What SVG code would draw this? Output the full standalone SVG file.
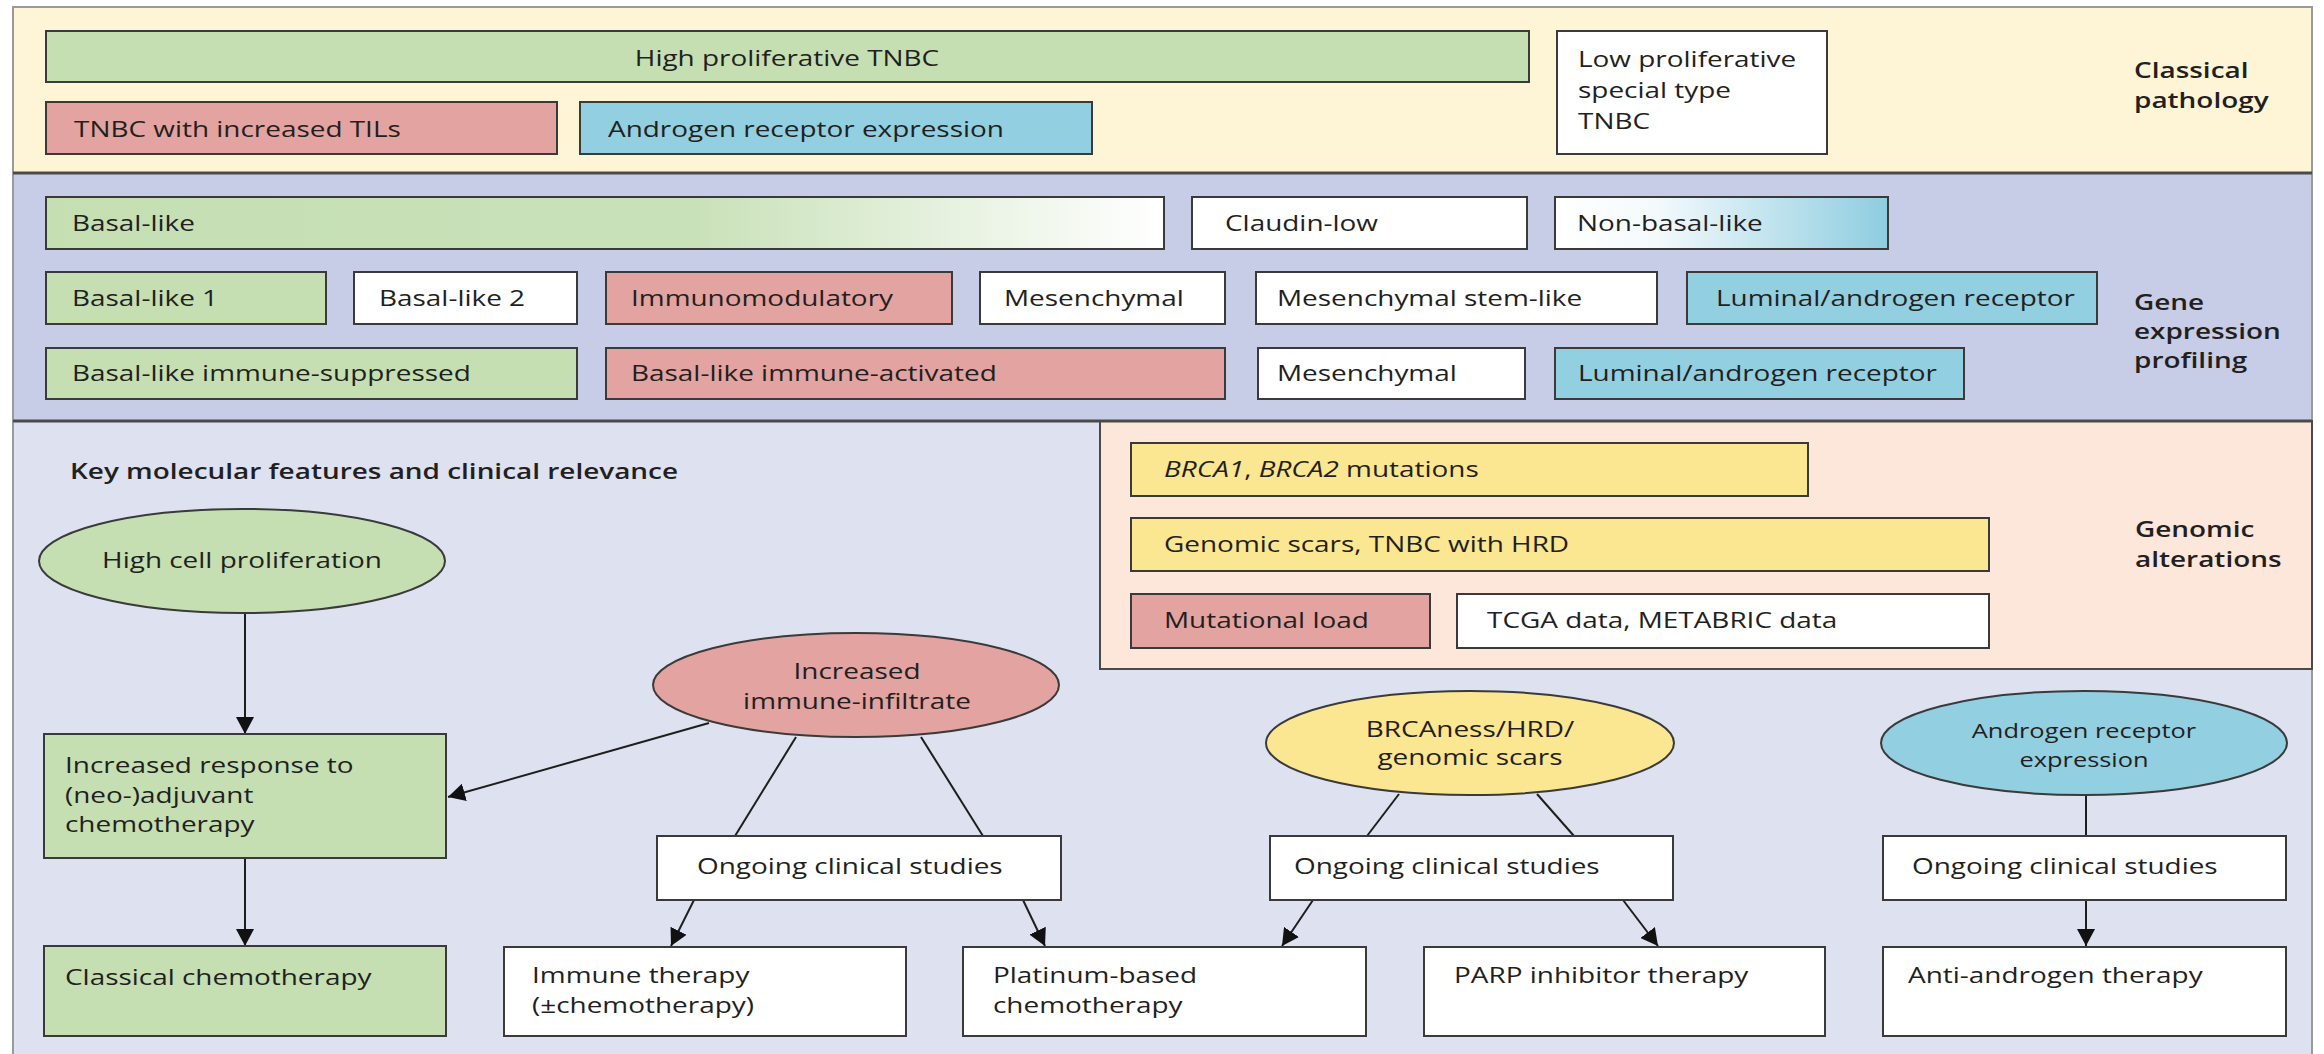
<svg xmlns="http://www.w3.org/2000/svg" width="2324" height="1054" viewBox="0 0 2324 1054">
<style>
.t{font-family:"Open Sans","Liberation Sans",sans-serif;font-size:22px;fill:#231f20}
.b{font-weight:600}
.c{text-anchor:middle}
.s{font-size:20px}
.box{stroke:#3a3a3a;stroke-width:2}
.g{fill:#c5dfb3}.r{fill:#e3a3a1}.cy{fill:#92cfe0}.y{fill:#fbe691}.w{fill:#ffffff}
.ln{stroke:#1e1e1e;stroke-width:2;fill:none}
.sep{stroke:#4a4a4a;stroke-width:3}
</style>
<defs>
<linearGradient id="basal" x1="0" y1="0" x2="1" y2="0">
<stop offset="0" stop-color="#c5dfb3"/><stop offset="0.58" stop-color="#c9e1b9"/><stop offset="1" stop-color="#ffffff"/>
</linearGradient>
<linearGradient id="nonbasal" x1="0" y1="0" x2="1" y2="0">
<stop offset="0" stop-color="#ffffff"/><stop offset="0.3" stop-color="#f4fafc"/><stop offset="1" stop-color="#8ecde0"/>
</linearGradient>
<marker id="ah" markerWidth="19" markerHeight="18" refX="17" refY="9" orient="auto" markerUnits="userSpaceOnUse">
<path d="M0,0 L17,9 L0,18 Z" fill="#111"/>
</marker>
</defs>
<rect x="0" y="0" width="2324" height="1054" fill="#ffffff"/>
<g id="panels">
<rect x="13" y="7" width="2299" height="166" fill="#fef4d6" stroke="#9a9a9a" stroke-width="2"/>
<rect x="13" y="173" width="2299" height="248" fill="#c7cde6" stroke="#9a9a9a" stroke-width="2"/>
<rect x="13" y="421" width="2299" height="640" fill="#dde1f0" stroke="#9a9a9a" stroke-width="2"/>
<rect x="1100" y="421" width="1212" height="248" fill="#fde6da" stroke="#4a4a4a" stroke-width="2"/>
<line class="sep" x1="13" y1="173" x2="2312" y2="173"/>
<line class="sep" x1="13" y1="421" x2="2312" y2="421"/>
</g>
<g id="high-prolif-tnbc"><rect class="box g" x="46" y="31" width="1483" height="51"/><text class="t c" transform="translate(787,66) scale(1.27,1)">High proliferative TNBC</text></g>
<g id="tnbc-tils"><rect class="box r" x="46" y="102" width="511" height="52"/><text class="t" transform="translate(74,137) scale(1.27,1)">TNBC with increased TILs</text></g>
<g id="ar-expression-top"><rect class="box cy" x="580" y="102" width="512" height="52"/><text class="t" transform="translate(608,137) scale(1.27,1)">Androgen receptor expression</text></g>
<g id="low-prolif"><rect class="box w" x="1557" y="31" width="270" height="123"/><text class="t" transform="translate(1578,67) scale(1.27,1)">Low proliferative<tspan x="0" dy="31">special type</tspan><tspan x="0" dy="31">TNBC</tspan></text></g>
<g id="label-classical"><text class="t b" transform="translate(2134,78) scale(1.27,1)">Classical<tspan x="0" dy="30">pathology</tspan></text></g>
<g id="basal-like"><rect class="box" fill="url(#basal)" x="46" y="197" width="1118" height="52"/><text class="t" transform="translate(72,231) scale(1.27,1)">Basal-like</text></g>
<g id="claudin-low"><rect class="box w" x="1192" y="197" width="335" height="52"/><text class="t" transform="translate(1225,231) scale(1.27,1)">Claudin-low</text></g>
<g id="non-basal-like"><rect class="box" fill="url(#nonbasal)" x="1555" y="197" width="333" height="52"/><text class="t" transform="translate(1577,231) scale(1.27,1)">Non-basal-like</text></g>
<g id="basal-like-1"><rect class="box g" x="46" y="272" width="280" height="52"/><text class="t" transform="translate(72,306) scale(1.27,1)">Basal-like 1</text></g>
<g id="basal-like-2"><rect class="box w" x="354" y="272" width="223" height="52"/><text class="t" transform="translate(379,306) scale(1.27,1)">Basal-like 2</text></g>
<g id="immunomodulatory"><rect class="box r" x="606" y="272" width="346" height="52"/><text class="t" transform="translate(631,306) scale(1.27,1)">Immunomodulatory</text></g>
<g id="mesenchymal-1"><rect class="box w" x="980" y="272" width="245" height="52"/><text class="t" transform="translate(1004,306) scale(1.27,1)">Mesenchymal</text></g>
<g id="mesenchymal-stem"><rect class="box w" x="1256" y="272" width="401" height="52"/><text class="t" transform="translate(1277,306) scale(1.27,1)">Mesenchymal stem-like</text></g>
<g id="luminal-ar-1"><rect class="box cy" x="1687" y="272" width="410" height="52"/><text class="t" transform="translate(1716,306) scale(1.27,1)">Luminal/androgen receptor</text></g>
<g id="basal-immune-suppressed"><rect class="box g" x="46" y="348" width="531" height="51"/><text class="t" transform="translate(72,381) scale(1.27,1)">Basal-like immune-suppressed</text></g>
<g id="basal-immune-activated"><rect class="box r" x="606" y="348" width="619" height="51"/><text class="t" transform="translate(631,381) scale(1.27,1)">Basal-like immune-activated</text></g>
<g id="mesenchymal-2"><rect class="box w" x="1258" y="348" width="267" height="51"/><text class="t" transform="translate(1277,381) scale(1.27,1)">Mesenchymal</text></g>
<g id="luminal-ar-2"><rect class="box cy" x="1555" y="348" width="409" height="51"/><text class="t" transform="translate(1578,381) scale(1.27,1)">Luminal/androgen receptor</text></g>
<g id="label-gene"><text class="t b" transform="translate(2134,310) scale(1.27,1)">Gene<tspan x="0" dy="29">expression</tspan><tspan x="0" dy="29">profiling</tspan></text></g>
<g id="brca-mutations"><rect class="box y" x="1131" y="443" width="677" height="53"/><text class="t" transform="translate(1164,477) scale(1.27,1)"><tspan font-style="italic">BRCA1</tspan>, <tspan font-style="italic">BRCA2</tspan> mutations</text></g>
<g id="genomic-scars"><rect class="box y" x="1131" y="518" width="858" height="53"/><text class="t" transform="translate(1164,552) scale(1.27,1)">Genomic scars, TNBC with HRD</text></g>
<g id="mutational-load"><rect class="box r" x="1131" y="594" width="299" height="54"/><text class="t" transform="translate(1164,628) scale(1.27,1)">Mutational load</text></g>
<g id="tcga"><rect class="box w" x="1457" y="594" width="532" height="54"/><text class="t" transform="translate(1487,628) scale(1.27,1)">TCGA data, METABRIC data</text></g>
<g id="label-genomic"><text class="t b" transform="translate(2135,537) scale(1.27,1)">Genomic<tspan x="0" dy="30">alterations</tspan></text></g>
<g id="label-key"><text class="t b" transform="translate(70,479) scale(1.27,1)">Key molecular features and clinical relevance</text></g>
<g id="connectors">
<line class="ln" x1="245" y1="613" x2="245" y2="734" marker-end="url(#ah)"/>
<line class="ln" x1="245" y1="858" x2="245" y2="946" marker-end="url(#ah)"/>
<line class="ln" x1="709" y1="723" x2="448" y2="797" marker-end="url(#ah)"/>
<line class="ln" x1="796" y1="737" x2="735" y2="836"/>
<line class="ln" x1="921" y1="737" x2="983" y2="836"/>
<line class="ln" x1="694" y1="900" x2="671" y2="946" marker-end="url(#ah)"/>
<line class="ln" x1="1023" y1="900" x2="1045" y2="946" marker-end="url(#ah)"/>
<line class="ln" x1="1399" y1="794" x2="1367" y2="836"/>
<line class="ln" x1="1537" y1="794" x2="1574" y2="836"/>
<line class="ln" x1="1313" y1="900" x2="1282" y2="946" marker-end="url(#ah)"/>
<line class="ln" x1="1623" y1="900" x2="1658" y2="946" marker-end="url(#ah)"/>
<line class="ln" x1="2086" y1="795" x2="2086" y2="836"/>
<line class="ln" x1="2086" y1="900" x2="2086" y2="946" marker-end="url(#ah)"/>
</g>
<g id="high-cell-prolif"><ellipse class="box g" cx="242" cy="561" rx="203" ry="52"/><text class="t c" transform="translate(242,568) scale(1.27,1)">High cell proliferation</text></g>
<g id="immune-infiltrate"><ellipse class="box r" cx="856" cy="685" rx="203" ry="52"/><text class="t c" transform="translate(857,679) scale(1.27,1)">Increased<tspan x="0" dy="30">immune-infiltrate</tspan></text></g>
<g id="brcaness"><ellipse class="box y" cx="1470" cy="743" rx="204" ry="52"/><text class="t c" transform="translate(1470,737) scale(1.27,1)">BRCAness/HRD/<tspan x="0" dy="28">genomic scars</tspan></text></g>
<g id="ar-ellipse"><ellipse class="box cy" cx="2084" cy="743" rx="203" ry="52"/><text class="t c s" transform="translate(2084,738) scale(1.27,1)">Androgen receptor<tspan x="0" dy="29">expression</tspan></text></g>
<g id="increased-response"><rect class="box g" x="44" y="734" width="402" height="124"/><text class="t" transform="translate(65,773) scale(1.27,1)">Increased response to<tspan x="0" dy="30">(neo-)adjuvant</tspan><tspan x="0" dy="29">chemotherapy</tspan></text></g>
<g id="classical-chemo"><rect class="box g" x="44" y="946" width="402" height="90"/><text class="t" transform="translate(65,985) scale(1.27,1)">Classical chemotherapy</text></g>
<g id="ongoing-1"><rect class="box w" x="657" y="836" width="404" height="64"/><text class="t" transform="translate(697,874) scale(1.27,1)">Ongoing clinical studies</text></g>
<g id="ongoing-2"><rect class="box w" x="1270" y="836" width="403" height="64"/><text class="t" transform="translate(1294,874) scale(1.27,1)">Ongoing clinical studies</text></g>
<g id="ongoing-3"><rect class="box w" x="1883" y="836" width="403" height="64"/><text class="t" transform="translate(1912,874) scale(1.27,1)">Ongoing clinical studies</text></g>
<g id="immune-therapy"><rect class="box w" x="504" y="947" width="402" height="89"/><text class="t" transform="translate(532,983) scale(1.27,1)">Immune therapy<tspan x="0" dy="30">(±chemotherapy)</tspan></text></g>
<g id="platinum"><rect class="box w" x="963" y="947" width="403" height="89"/><text class="t" transform="translate(993,983) scale(1.27,1)">Platinum-based<tspan x="0" dy="30">chemotherapy</tspan></text></g>
<g id="parp"><rect class="box w" x="1424" y="947" width="401" height="89"/><text class="t" transform="translate(1454,983) scale(1.27,1)">PARP inhibitor therapy</text></g>
<g id="anti-androgen"><rect class="box w" x="1883" y="947" width="403" height="89"/><text class="t" transform="translate(1908,983) scale(1.27,1)">Anti-androgen therapy</text></g>
</svg>
